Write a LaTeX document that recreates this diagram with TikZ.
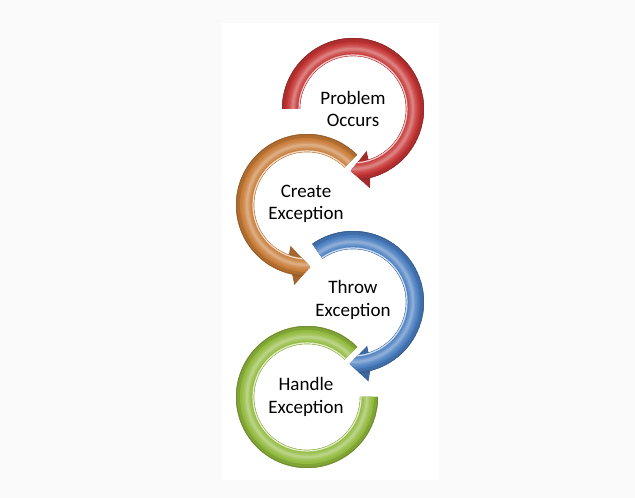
\documentclass[tikz,border=0pt]{standalone}
\usepackage{fontspec}
\setmainfont{Carlito}
\definecolor{redc}{RGB}{198,54,54}
\definecolor{orangec}{RGB}{200,124,56}
\definecolor{bluec}{RGB}{74,126,192}
\definecolor{greenc}{RGB}{146,186,62}
\definecolor{bgc}{RGB}{250,250,250}
\tikzset{
  lbl/.style={font=\fontsize{19}{22.5}\selectfont, align=center, inner sep=0pt, text=black}
}
\newcommand{\glossring}[3]{%
  \begin{scope}[shift={#2}]
    \fill[#1!82!black] #3;
    \begin{scope}
      \clip #3;
      \draw[line width=18pt, #1!88!black] (0,0) circle[radius=62pt];
      \foreach \w/\p in {14/100,11/94,8/86,5/76,2.5/64}
        \draw[line width=\w pt, #1!\p!white] (0,0) circle[radius=60pt];
      \draw[white, opacity=.75, line width=1.2pt] (0,0) circle[radius=54pt];
      \draw[#1!70!black, opacity=.6, line width=2pt] (0,0) circle[radius=71pt];
    \end{scope}
  \end{scope}}
\begin{document}
\begin{tikzpicture}[x=1pt,y=1pt]
  \fill[bgc] (0,0) rectangle (635,498);
  \fill[white] (222,18) rectangle (439,475);
  \useasboundingbox (0,0) rectangle (635,498);
  % green ring
  \glossring{greenc}{(307,101)}{(45:71pt) arc[start angle=45, end angle=360, radius=71pt] -- (0:53pt) arc[start angle=360, end angle=45, radius=53pt] -- cycle}
  % blue arrow
  \glossring{bluec}{(353,196)}{(125:71pt) arc[start angle=125, end angle=-76, radius=71pt] -- (-79:81pt) -- (-93:62pt) -- (-72:46pt) -- (-73:53pt) arc[start angle=-73, end angle=125, radius=53pt] -- cycle}
  % orange arrow
  \glossring{orangec}{(307,293)}{(45:71pt) arc[start angle=45, end angle=258, radius=71pt] -- (261:81pt) -- (273:62pt) -- (248:44pt) -- (250:53pt) arc[start angle=250, end angle=45, radius=53pt] -- cycle}
  % red arrow
  \glossring{redc}{(353,389)}{(180:71pt) arc[start angle=180, end angle=-76, radius=71pt] -- (-78:81pt) -- (-92:62pt) -- (-72:44pt) -- (-73:53pt) arc[start angle=-73, end angle=180, radius=53pt] -- cycle}
  % labels
  \node[lbl] (t1) at (353,389) {Problem\\Occurs};
  \node[lbl] (t2) at (306,294) {Create\\Exception};
  \node[lbl] (t3) at (353,198) {Throw\\Exception};
  \node[lbl] (t4) at (306,101) {Handle\\Exception};
\end{tikzpicture}
\end{document}
